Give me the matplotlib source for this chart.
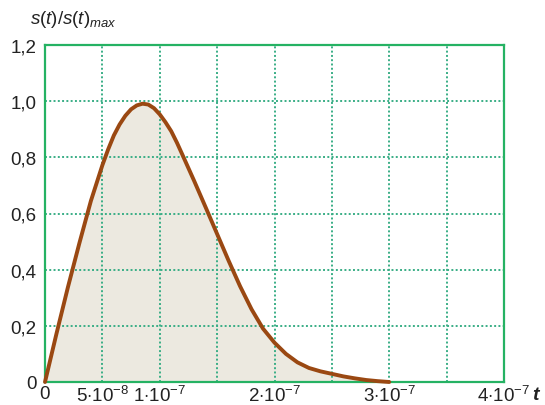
import numpy as np
import matplotlib.pyplot as plt

plt.rcParams['font.family'] = ['Liberation Sans', 'DejaVu Sans']
plt.rcParams['mathtext.fontset'] = 'custom'
plt.rcParams['mathtext.rm'] = 'Liberation Sans'
plt.rcParams['mathtext.it'] = 'Liberation Sans:italic'
plt.rcParams['mathtext.bf'] = 'Liberation Sans:bold:italic'

# datos (t en unidades de 1e-7 s)
t_e7 = [0.0, 0.1, 0.2, 0.3, 0.4, 0.5, 0.55, 0.6, 0.65, 0.7, 0.75, 0.8,
        0.85, 0.9, 0.95, 1.0, 1.05, 1.1, 1.15, 1.2, 1.3, 1.4, 1.5, 1.6,
        1.7, 1.8, 1.9, 2.0, 2.1, 2.2, 2.3, 2.4, 2.5, 2.6, 2.7, 2.8, 2.9, 3.0]
s_rel = [0.0, 0.172, 0.338, 0.495, 0.645, 0.772, 0.828, 0.878, 0.917, 0.948,
         0.971, 0.985, 0.991, 0.988, 0.975, 0.953, 0.925, 0.893, 0.852, 0.807,
         0.716, 0.622, 0.527, 0.432, 0.341, 0.259, 0.19, 0.14, 0.1, 0.07,
         0.05, 0.038, 0.029, 0.02, 0.013, 0.007, 0.003, 0.0]

x_ticks = [0, 0.5, 1, 1.5, 2, 2.5, 3, 3.5, 4]
x_labels = ['0', r'$5{\cdot}10^{-8}$', r'$1{\cdot}10^{-7}$', '', r'$2{\cdot}10^{-7}$',
            '', r'$3{\cdot}10^{-7}$', '', r'$4{\cdot}10^{-7}$']
y_ticks = [0, 0.2, 0.4, 0.6, 0.8, 1.0, 1.2]
y_labels = ['0', '0,2', '0,4', '0,6', '0,8', '1,0', '1,2']

t = np.array(t_e7) * 1e-7
s = np.array(s_rel)

fig = plt.figure(figsize=(5.45, 4.06), dpi=100)
ax = fig.add_axes([45 / 545, 1 - 383 / 406, 459 / 545, 337 / 406])

verde = '#25b263'
ax.fill_between(t, s, color='#ece9e0', lw=0, zorder=1)
ax.plot(t, s, color='#9a4812', lw=2.8, solid_capstyle='round',
        solid_joinstyle='round', zorder=3, clip_on=False)

ax.set_xlim(0, 4e-7)
ax.set_ylim(0, 1.2)
ax.set_xticks(np.array(x_ticks) * 1e-7)
ax.set_xticklabels(x_labels)
ax.set_yticks(y_ticks)
ax.set_yticklabels(y_labels)
ax.tick_params(length=0, labelsize=13.5, colors='#222222')
ax.tick_params(axis='x', pad=2)
ax.tick_params(axis='y', pad=6)
ax.grid(True, color='#3aae86', linestyle=(0, (1, 1.2)), linewidth=1.4, zorder=2)
for sp in ax.spines.values():
    sp.set_color(verde)
    sp.set_linewidth(1.6)

fig.text(537 / 545, 1 - 396 / 406, r'$\mathbf{t}$', fontsize=14,
         ha='center', va='center', color='#222222')
fig.text(30 / 545, 1 - 20 / 406, r'$s(t)/s(t)_{max}$', fontsize=13.5,
         ha='left', va='center', color='#222222')

fig.savefig('out.png', dpi=100)
